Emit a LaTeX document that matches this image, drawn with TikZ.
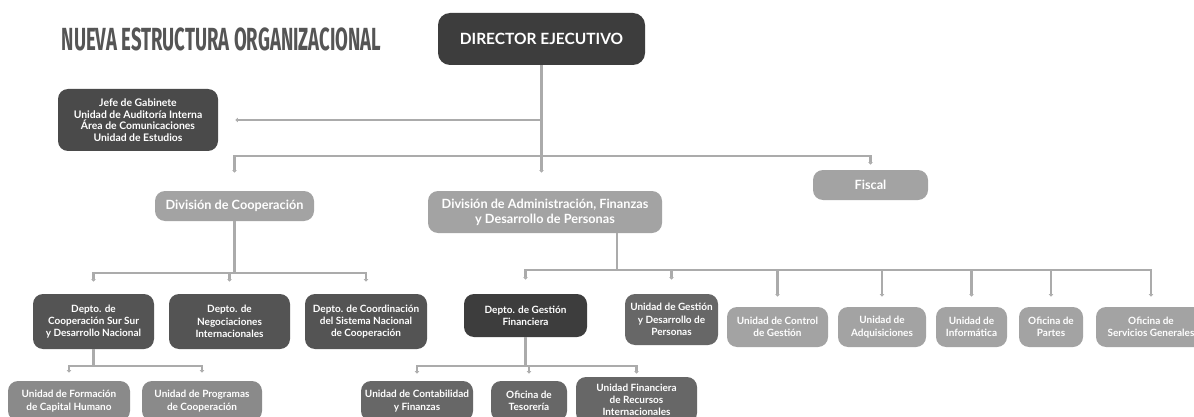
\documentclass[tikz,border=0pt]{standalone}
\usepackage{fontspec}
\usepackage{graphicx}
\setmainfont{Lato}
\newfontfamily\titlefont{Fira Sans}
\usetikzlibrary{arrows.meta}
\definecolor{ink}{HTML}{3D3D3D}
\definecolor{jefe}{HTML}{4A4A4A}
\definecolor{depto}{HTML}{545454}
\definecolor{mid}{HTML}{676767}
\definecolor{sub}{HTML}{8A8A8A}
\definecolor{soft}{HTML}{A3A3A3}
\definecolor{wire}{HTML}{ABABAB}
\definecolor{head}{HTML}{555555}

\begin{document}
\begin{tikzpicture}[x=1pt, y=-1pt, thick,
    main/.style = {draw=none, rounded corners=10pt, text=white, align=center, inner sep=1pt,
                   font=\bfseries\fontsize{10}{12.3}\selectfont},
    big/.style = {font=\bfseries\fontsize{12.7}{15}\selectfont},
    bar/.style = {draw=wire, line width=2.6pt},
    link/.style = {bar, -{Triangle[length=2.5pt,width=4.5pt]}}]
    \useasboundingbox (0,0) rectangle (1194,417);
    \clip (0,0) rectangle (1194,417);
    \fill[white] (0,0) rectangle (1194,417);

    \node[text=head, font=\titlefont\bfseries\fontsize{32}{32}\selectfont] (title) at (221.5,39)
        {\scalebox{0.58}[1]{NUEVA ESTRUCTURA ORGANIZACIONAL}};

    % top
    \node[main, fill=ink, minimum width=207pt, minimum height=52pt, rounded corners=12pt,
          font=\bfseries\fontsize{15.5}{17}\selectfont] (dir) at (541.5,39) {DIRECTOR EJECUTIVO};
    \node[main, fill=jefe, minimum width=160pt, minimum height=62pt, font=\bfseries\fontsize{10.4}{11.5}\selectfont]
        (jefe) at (138,120) {Jefe de Gabinete\\Unidad de Auditoría Interna\\Área de Comunicaciones\\Unidad de Estudios};

    % divisiones
    \node[main, big, fill=soft, minimum width=159pt, minimum height=30pt] (divcoop) at (234.5,206) {División de Cooperación};
    \node[main, big, fill=soft, minimum width=234pt, minimum height=42pt] (divadm) at (545,212)
        {División de Administración, Finanzas\\y Desarrollo de Personas};
    \node[main, big, fill=soft, minimum width=115pt, minimum height=30pt] (fiscal) at (870.5,185) {Fiscal};

    % cooperacion
    \node[main, fill=depto, minimum width=121pt, minimum height=55pt] (d1) at (93.5,321.5) {Depto. de\\Cooperación Sur Sur\\y Desarrollo Nacional};
    \node[main, fill=depto, minimum width=121pt, minimum height=55pt] (d2) at (229.5,321.5) {Depto. de\\Negociaciones\\Internacionales};
    \node[main, fill=depto, minimum width=122pt, minimum height=55pt] (d3) at (366,321.5) {Depto. de Coordinación\\del Sistema Nacional\\de Cooperación};
    \node[main, fill=sub, minimum width=122pt, minimum height=40pt] (u1) at (69,401) {Unidad de Formación\\de Capital Humano};
    \node[main, fill=sub, minimum width=120pt, minimum height=40pt] (u2) at (202,401) {Unidad de Programas\\de Cooperación};

    % administracion
    \node[main, fill=ink, minimum width=123pt, minimum height=43pt] (gf) at (525.5,315.5) {Depto. de Gestión\\Financiera};
    \node[main, fill=mid, minimum width=93pt, minimum height=51pt] (ugdp) at (671.5,319.5) {Unidad de Gestión\\y Desarrollo de\\Personas};
    \node[main, fill=mid, minimum width=112pt, minimum height=40pt] (c1) at (417,401) {Unidad de Contabilidad\\y Finanzas};
    \node[main, fill=mid, minimum width=76pt, minimum height=40pt] (c2) at (529,401) {Oficina de\\Tesorería};
    \node[main, fill=mid, minimum width=121pt, minimum height=46pt] (c3) at (636.5,400) {Unidad Financiera\\de Recursos\\Internacionales};
    \node[main, fill=soft, minimum width=101pt, minimum height=40pt] (r1) at (777.5,327) {Unidad de Control\\de Gestión};
    \node[main, fill=soft, minimum width=88pt, minimum height=40pt] (r2) at (882,327) {Unidad de\\Adquisiciones};
    \node[main, fill=soft, minimum width=71pt, minimum height=40pt] (r3) at (971.5,327) {Unidad de\\Informática};
    \node[main, fill=soft, minimum width=64pt, minimum height=40pt] (r4) at (1051,327) {Oficina de\\Partes};
    \node[main, fill=soft, minimum width=110pt, minimum height=40pt] (r5) at (1151,327) {Oficina de\\Servicios Generales};

    % niveles de las lineas
    \coordinate (lv1) at (0,156);
    \coordinate (lv2) at (0,273);
    \coordinate (lv3) at (0,366);
    \coordinate (adm) at (617,270);

    \draw[link, shorten >=18pt] (dir.south) -- (dir.south |- divadm.north);
    \draw[link, shorten >=17pt] (dir.south) |- (jefe.east);
    \foreach \n/\g in {divcoop/18, fiscal/5}
        \draw[link, shorten >=\g pt] (dir.south) |- (\n.north |- lv1) -- (\n.north);
    \foreach \n in {d1, d2, d3}
        \draw[link, shorten >=12pt] (divcoop.south) |- (\n.north |- lv2) -- (\n.north);
    \foreach \n in {u1, u2}
        \draw[link, shorten >=8pt] (d1.south) |- (\n.north |- lv3) -- (\n.north);
    \foreach \n/\g in {gf/14, ugdp/14, r1/10, r2/10, r3/10, r4/10, r5/10}
        \draw[link, shorten >=\g pt] (divadm.south -| adm) |- (\n.north |- adm) -- (\n.north);
    \foreach \n/\g in {c1/7, c2/7, c3/3}
        \draw[link, shorten >=\g pt] (gf.south) |- (\n.north |- lv3) -- (\n.north);
\end{tikzpicture}
\end{document}
